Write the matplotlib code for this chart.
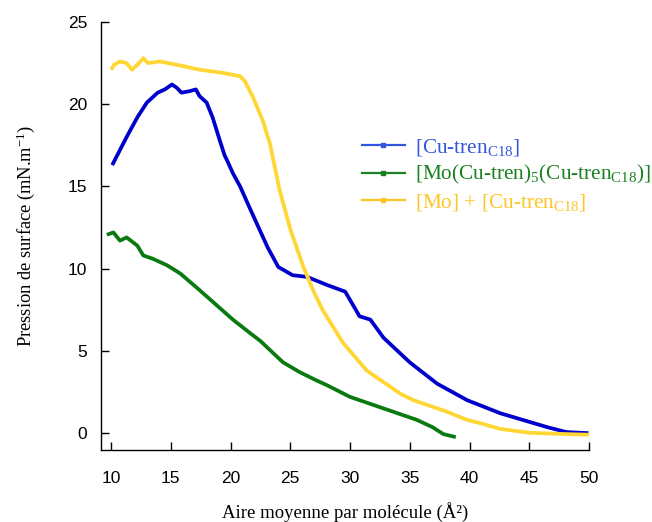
import matplotlib
matplotlib.use("Agg")
import matplotlib.pyplot as plt
from matplotlib.lines import Line2D

plt.rcParams['mathtext.fontset'] = 'custom'
plt.rcParams['mathtext.rm'] = 'Liberation Serif'
plt.rcParams['mathtext.it'] = 'Liberation Serif:italic'

# Data
cu_x = [10.17, 11.3, 12.2, 13.0, 13.9, 14.5, 15.1, 15.5, 15.9, 16.6, 17.1, 17.4, 18.0, 18.5,
        19.1, 19.5, 19.7, 20.2, 20.8, 21.6, 23.1, 24.0, 25.2, 26.4, 28.1, 29.6, 30.8, 31.7,
        32.8, 35.0, 37.3, 39.8, 42.6, 46.5, 48.1, 49.8]
cu_y = [16.4, 18.0, 19.2, 20.1, 20.7, 20.9, 21.2, 21.0, 20.7, 20.8, 20.9, 20.5, 20.1, 19.2,
        17.8, 16.9, 16.6, 15.8, 15.0, 13.7, 11.3, 10.1, 9.6, 9.5, 9.0, 8.6, 7.1, 6.9,
        5.8, 4.3, 3.0, 2.0, 1.2, 0.36, 0.06, 0.0]

mo_x = [9.8, 10.2, 10.75, 11.3, 12.2, 12.7, 13.5, 14.7, 15.8, 17.4, 20.2, 21.6, 22.5, 24.1,
        24.4, 25.8, 27.2, 28.1, 30.0, 32.8, 35.6, 36.9, 37.8, 38.7]
mo_y = [12.1, 12.2, 11.7, 11.9, 11.4, 10.8, 10.6, 10.2, 9.7, 8.7, 6.9, 6.1, 5.6, 4.5,
        4.3, 3.7, 3.2, 2.9, 2.2, 1.5, 0.8, 0.36, -0.06, -0.22]

mix_x = [10.1, 10.25, 10.75, 11.3, 11.75, 12.2, 12.7, 13.1, 14.1, 15.5, 17.4, 19.4, 20.8,
         21.2, 21.9, 22.7, 23.3, 24.1, 25.0, 26.1, 26.9, 27.7, 29.4, 31.4, 34.2, 35.3,
         36.9, 38.1, 39.8, 40.9, 42.6, 45.0, 47.5, 50.0]
mix_y = [22.2, 22.4, 22.6, 22.5, 22.1, 22.4, 22.8, 22.5, 22.6, 22.4, 22.1, 21.9, 21.7,
         21.4, 20.4, 19.0, 17.6, 14.8, 12.4, 10.1, 8.7, 7.5, 5.5, 3.8, 2.4, 2.0,
         1.6, 1.3, 0.8, 0.6, 0.25, 0.02, -0.05, -0.1]

labels = [r'[Cu-tren$_{\mathrm{C18}}$]',
          r'[Mo(Cu-tren)$_{\mathrm{5}}$(Cu-tren$_{\mathrm{C18}}$)]',
          r'[Mo] + [Cu-tren$_{\mathrm{C18}}$]']
line_colors = ['#0000CC', '#0A7A10', '#FFD633']
text_colors = ['#3355DD', '#1A8020', '#FFC426']

x_ticks = [10, 15, 20, 25, 30, 35, 40, 45, 50]
y_ticks = [0, 5, 10, 15, 20, 25]

fig = plt.figure(figsize=(6.52, 5.22), dpi=100)
ax = fig.add_axes([101/652, (522-450)/522, (589-101)/652, (450-22)/522])

series = [(cu_x, cu_y), (mo_x, mo_y), (mix_x, mix_y)]
for (xs, ys), c in zip(series, line_colors):
    ax.plot(xs, ys, color=c, lw=2.7, solid_joinstyle='round')

ax.set_xlim(9.16, 50.0)
ax.set_ylim(-1.03, 25.0)
ax.spines['top'].set_visible(False)
ax.spines['right'].set_visible(False)
for s in ['left', 'bottom']:
    ax.spines[s].set_linewidth(1.0)
ax.set_xticks(x_ticks)
ax.set_yticks(y_ticks)
ax.tick_params(direction='in', length=6, width=1.0, labelsize=12.5)
ax.tick_params(axis='x', pad=15)
ax.tick_params(axis='y', pad=10)
for lab in ax.get_xticklabels() + ax.get_yticklabels():
    lab.set_fontfamily('Liberation Sans')

ax.set_xlabel('Aire moyenne par molécule (Å²)', fontfamily='Liberation Serif',
              fontsize=13.5, labelpad=12)
ax.set_ylabel(r'Pression de surface (mN.m$^{-1}$)', fontfamily='Liberation Serif',
              fontsize=13.3, labelpad=22)

handles = [Line2D([], [], color=c, lw=1.6, marker='s', markersize=2.5) for c in text_colors]
leg = fig.legend(handles, labels, loc='upper left', bbox_to_anchor=(343/652, 1 - 118/522),
                 frameon=False, numpoints=1, handlelength=2.0, handletextpad=0.47,
                 labelspacing=0.25, prop={'family': 'Liberation Serif', 'size': 15.3})
for t, c in zip(leg.get_texts(), text_colors):
    t.set_color(c)

fig.savefig('out.png', dpi=100)
